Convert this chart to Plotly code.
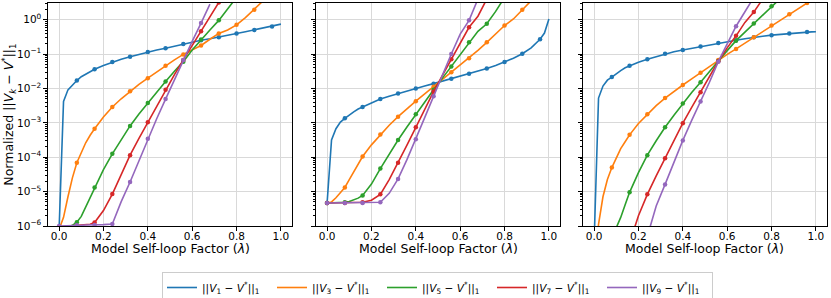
import numpy as np
import plotly.graph_objects as go

# ---------------- data (log10 of normalized error) ----------------
lambda_grid = [0.00, 0.02, 0.04, 0.06, 0.08, 0.10, 0.12, 0.14, 0.16, 0.20, 0.24, 0.28,
               0.32, 0.36, 0.40, 0.44, 0.48, 0.52, 0.56, 0.60, 0.64, 0.68, 0.72, 0.76,
               0.80, 0.84, 0.88, 0.92, 0.96, 0.98, 1.00]

series_labels = [
    "||<i>V</i><sub>1</sub> − <i>V</i><sup>*</sup>||<sub>1</sub>",
    "||<i>V</i><sub>3</sub> − <i>V</i><sup>*</sup>||<sub>1</sub>",
    "||<i>V</i><sub>5</sub> − <i>V</i><sup>*</sup>||<sub>1</sub>",
    "||<i>V</i><sub>7</sub> − <i>V</i><sup>*</sup>||<sub>1</sub>",
    "||<i>V</i><sub>9</sub> − <i>V</i><sup>*</sup>||<sub>1</sub>",
]
x_title = "Model Self-loop Factor (<i>λ</i>)"
y_title = "Normalized ||<i>V</i><sub><i>k</i></sub> − <i>V</i><sup>*</sup>||<sub>1</sub>"

N = None
# Panel 1
p1_v1 = [-6.1, -2.38, -2.04, -1.89, -1.77, -1.66, -1.58, -1.50, -1.44, -1.33, -1.23, -1.15,
         -1.08, -1.01, -0.94, -0.88, -0.83, -0.77, -0.71, -0.655, -0.60, -0.555, -0.51, -0.455,
         -0.40, -0.35, -0.30, -0.25, -0.20, -0.165, -0.13]
p1_v3 = [-6.1, -5.75, -5.15, -4.60, -4.16, -3.85, -3.58, -3.36, -3.17, -2.83, -2.54, -2.30,
         -2.08, -1.88, -1.70, -1.52, -1.34, -1.17, -1.01, -0.87, -0.75, -0.57, -0.40, -0.30,
         -0.15, 0.06, 0.29, 0.55, N, N, N]
p1_v5 = [-6.1, -6.05, -6.02, -5.98, -5.89, -5.72, -5.45, -5.15, -4.88, -4.36, -3.90, -3.48,
         -3.09, -2.74, -2.42, -2.10, -1.80, -1.50, -1.22, -0.88, -0.58, -0.30, -0.02, 0.30,
         0.65, N, N, N, N, N, N]
p1_v7 = [-6.02, -6.01, -6.00, -6.00, -5.99, -5.98, -5.97, -5.95, -5.90, -5.55, -5.07, -4.50,
         -3.94, -3.45, -2.98, -2.50, -2.04, -1.60, -1.17, -0.75, -0.34, 0.10, 0.50, N,
         N, N, N, N, N, N, N]
p1_v9 = [-6.00, -6.00, -5.99, -5.99, -5.98, -5.98, -5.97, -5.97, -5.97, -5.96, -5.94, -5.29,
         -4.72, -4.09, -3.46, -2.88, -2.31, -1.74, -1.17, -0.63, -0.10, 0.45, N, N,
         N, N, N, N, N, N, N]
# Panel 2
p2_v1 = [-5.33, -3.50, -3.17, -2.98, -2.87, -2.77, -2.68, -2.60, -2.54, -2.42, -2.31, -2.23,
         -2.15, -2.07, -2.00, -1.93, -1.86, -1.79, -1.72, -1.645, -1.57, -1.50, -1.42, -1.33,
         -1.23, -1.12, -0.99, -0.82, -0.57, -0.39, 0.02]
p2_v3 = [-5.33, -5.30, -5.18, -5.03, -4.88, -4.65, -4.42, -4.20, -3.98, -3.64, -3.34, -3.07,
         -2.82, -2.59, -2.37, -2.16, -1.95, -1.74, -1.53, -1.33, -1.12, -0.89, -0.66, -0.40,
         -0.17, 0.02, 0.29, 0.55, N, N, N]
p2_v5 = [-5.33, -5.33, -5.33, -5.32, -5.31, -5.29, -5.25, -5.19, -5.11, -4.78, -4.33, -3.91,
         -3.50, -3.12, -2.75, -2.39, -2.04, -1.70, -1.36, -1.01, -0.66, -0.34, -0.12, 0.24,
         0.65, N, N, N, N, N, N]
p2_v7 = [-5.33, -5.33, -5.33, -5.33, -5.33, -5.33, -5.33, -5.32, -5.31, -5.25, -5.08, -4.65,
         -4.16, -3.65, -3.13, -2.60, -2.09, -1.62, -1.15, -0.68, -0.22, 0.10, 0.60, N,
         N, N, N, N, N, N, N]
p2_v9 = [-5.33, -5.33, -5.33, -5.33, -5.33, -5.33, -5.33, -5.33, -5.33, -5.33, -5.31, -5.05,
         -4.63, -4.07, -3.48, -2.85, -2.23, -1.60, -1.00, -0.42, -0.02, 0.60, N, N,
         N, N, N, N, N, N, N]
# Panel 3
p3_v1 = [-6.5, -2.28, -1.93, -1.76, -1.67, -1.57, -1.48, -1.40, -1.34, -1.24, -1.15, -1.07,
         -0.99, -0.93, -0.88, -0.83, -0.78, -0.73, -0.68, -0.64, -0.60, -0.555, -0.51, -0.48,
         -0.45, -0.425, -0.40, -0.38, -0.36, -0.355, -0.35]
p3_v3 = [-8.0, -5.95, -5.15, -4.65, -4.30, -4.02, -3.75, -3.55, -3.35, -3.02, -2.75, -2.50,
         -2.28, -2.08, -1.90, -1.72, -1.54, -1.35, -1.17, -1.01, -0.85, -0.68, -0.51, -0.34,
         -0.17, 0.00, 0.16, 0.32, 0.485, 0.57, 0.65]
p3_v5 = [N, N, N, -7.5, -6.5, -6.05, -5.75, -5.38, -5.02, -4.45, -3.94, -3.52,
         -3.13, -2.78, -2.44, -2.12, -1.82, -1.50, -1.20, -0.90, -0.61, -0.36, -0.11, 0.15,
         0.39, 0.62, N, N, N, N, N]
p3_v7 = [N, N, N, N, N, N, N, -7.0, -6.5, -5.70, -5.08, -4.54,
         -4.03, -3.51, -3.01, -2.55, -2.11, -1.65, -1.21, -0.82, -0.47, -0.08, 0.22, 0.60,
         N, N, N, N, N, N, N]
p3_v9 = [N, N, N, N, N, N, N, N, N, N, -6.3, -5.42,
         -4.79, -4.14, -3.51, -2.93, -2.38, -1.82, -1.22, -0.70, -0.19, 0.23, 0.65, N,
         N, N, N, N, N, N, N]

panels = [
    [p1_v1, p1_v3, p1_v5, p1_v7, p1_v9],
    [p2_v1, p2_v3, p2_v5, p2_v7, p2_v9],
    [p3_v1, p3_v3, p3_v5, p3_v7, p3_v9],
]

x_ticks = [0.0, 0.2, 0.4, 0.6, 0.8, 1.0]
y_tick_exps = [-6, -5, -4, -3, -2, -1, 0]

# ---------------- styling ----------------
colors = ["#1f77b4", "#ff7f0e", "#2ca02c", "#d62728", "#9467bd"]
FONT = "DejaVu Sans"
W, H = 831, 298
ML, MR, MT, MB = 48, 4, 3, 72
pw = W - ML - MR
ph = H - MT - MB
px_domains = [(48, 292), (316, 560), (583, 827)]
domains = [((a - ML) / pw, (b - ML) / pw) for a, b in px_domains]

fig = go.Figure()

marker_idx = [i for i, x in enumerate(lambda_grid) if abs(x / 0.08 - round(x / 0.08)) < 1e-6]

for p, series in enumerate(panels):
    xa = "x" if p == 0 else f"x{p+1}"
    ya = "y" if p == 0 else f"y{p+1}"
    for s, logs in enumerate(series):
        yv = [None if v is None else 10.0 ** v for v in logs]
        fig.add_trace(go.Scatter(
            x=lambda_grid, y=yv, mode="lines", name=series_labels[s],
            line=dict(color=colors[s], width=1.6), connectgaps=False,
            legendgroup=f"s{s}", showlegend=(p == 0), xaxis=xa, yaxis=ya,
            hoverinfo="skip"))
        mx = [lambda_grid[i] for i in marker_idx if yv[i] is not None]
        my = [yv[i] for i in marker_idx if yv[i] is not None]
        fig.add_trace(go.Scatter(
            x=mx, y=my, mode="markers", marker=dict(color=colors[s], size=4.5),
            legendgroup=f"s{s}", showlegend=False, xaxis=xa, yaxis=ya,
            hoverinfo="skip", cliponaxis=True))

minor_vals = [m * 10.0 ** e for e in range(-6, 1) for m in range(2, 10) if m * 10.0 ** e < 3.05]

annotations = []
for p in range(3):
    cx = (domains[p][0] + domains[p][1]) / 2
    annotations.append(dict(
        text=x_title, xref="paper", yref="paper", x=cx, y=-(248 - (MT + ph)) / ph,
        xanchor="center", yanchor="middle", showarrow=False,
        font=dict(size=12.5, family=FONT, color="black")))

layout = dict(
    width=W, height=H,
    margin=dict(l=ML, r=MR, t=MT, b=MB, pad=0, autoexpand=False),
    paper_bgcolor="white", plot_bgcolor="white",
    font=dict(family=FONT, size=10.5, color="black"),
    showlegend=True,
    legend=dict(orientation="h", x=0.5, xanchor="center",
                yref="container", y=1 - 272 / H, yanchor="top",
                bordercolor="#cccccc", borderwidth=1, font=dict(size=10.6, family=FONT),
                entrywidth=65, entrywidthmode="pixels", tracegroupgap=0,
                itemwidth=30),
    annotations=annotations,
)

for p in range(3):
    xk = "xaxis" if p == 0 else f"xaxis{p+1}"
    yk = "yaxis" if p == 0 else f"yaxis{p+1}"
    anchor_x = "y" if p == 0 else f"y{p+1}"
    anchor_y = "x" if p == 0 else f"x{p+1}"
    layout[xk] = dict(
        domain=list(domains[p]), anchor=anchor_x, range=[-0.05, 1.05],
        tickmode="array", tickvals=x_ticks, ticktext=[f"{v:.1f}" for v in x_ticks],
        ticks="outside", ticklen=3.5, tickwidth=1, tickcolor="black",
        ticklabelstandoff=-3,
        showline=True, linecolor="black", linewidth=1.2, mirror=True,
        showgrid=True, gridcolor="#d9d9d9", gridwidth=1, zeroline=False,
        tickfont=dict(size=10.5),
        automargin=False,
    )
    layout[yk] = dict(
        domain=[0, 1], anchor=anchor_y, type="log", range=[-6, 0.485],
        tickmode="array", tickvals=[10.0 ** e for e in y_tick_exps],
        ticktext=[f"10<sup>{'−' if e < 0 else ''}{abs(e)}</sup>" for e in y_tick_exps],
        showticklabels=(p == 0),
        ticks="outside", ticklen=3.5, tickwidth=1, tickcolor="black",
        minor=dict(ticks="outside", ticklen=2, tickwidth=0.8, tickcolor="black",
                   tickmode="array", tickvals=minor_vals, showgrid=False),
        showline=True, linecolor="black", linewidth=1.2, mirror=True,
        showgrid=True, gridcolor="#d9d9d9", gridwidth=1, zeroline=False,
        tickfont=dict(size=10.5),
        automargin=False,
    )
    if p != 0:
        layout[yk]["matches"] = "y"

layout["yaxis"]["title"] = dict(text=y_title, font=dict(size=12.5), standoff=2)

fig.update_layout(**layout)
fig.write_html("out.html",
               config={"displayModeBar": False},
               post_script="document.body.style.margin='0px';document.body.style.padding='0px';")
